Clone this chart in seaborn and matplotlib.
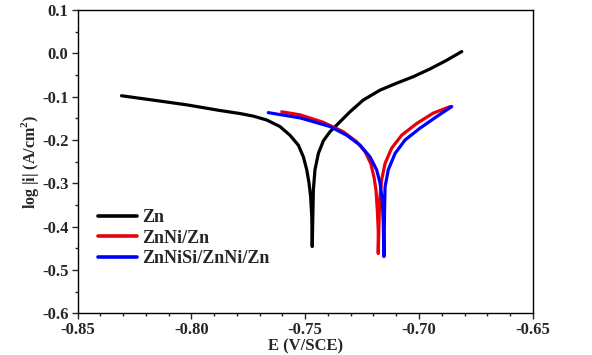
import pandas as pd
import matplotlib
matplotlib.use("Agg")
import matplotlib.pyplot as plt
import seaborn as sns
from matplotlib.ticker import MultipleLocator

# Tafel curves (E in V/SCE, log|i|)
# each list runs along the cathodic branch down to Ecorr, then up the anodic branch
zn_e = [-0.8307, -0.8169, -0.8020, -0.7875, -0.7787, -0.7728, -0.7669, -0.7611,
        -0.7567, -0.7530, -0.7508, -0.7493, -0.7483, -0.7476, -0.7471, -0.7469,
        -0.7464, -0.7457, -0.7442, -0.7420, -0.7391, -0.7362, -0.7303, -0.7245,
        -0.7171, -0.7098, -0.7025, -0.6951, -0.6878, -0.6812]
zn_logi = [-0.098, -0.108, -0.119, -0.132, -0.139, -0.145, -0.154, -0.169,
           -0.189, -0.212, -0.239, -0.269, -0.300, -0.331, -0.377, -0.446,
           -0.315, -0.269, -0.231, -0.202, -0.181, -0.166, -0.135, -0.108,
           -0.085, -0.069, -0.054, -0.036, -0.016, 0.004]

znni_e = [-0.7603, -0.7523, -0.7422, -0.7333, -0.7274, -0.7237, -0.7212, -0.7198,
          -0.7189, -0.7183, -0.7179, -0.7179,
          -0.7173, -0.7164, -0.7149, -0.7120, -0.7076, -0.7010, -0.6937, -0.6863]
znni_logi = [-0.135, -0.142, -0.159, -0.181, -0.204, -0.227, -0.254, -0.285,
             -0.315, -0.362, -0.408, -0.462,
             -0.339, -0.292, -0.254, -0.219, -0.189, -0.162, -0.138, -0.123]

znnisi_e = [-0.7662, -0.7523, -0.7391, -0.7318, -0.7259, -0.7215, -0.7186, -0.7171,
            -0.7161, -0.7157, -0.7154,
            -0.7151, -0.7149, -0.7135, -0.7105, -0.7061, -0.6996, -0.6922, -0.6856]
znnisi_logi = [-0.137, -0.149, -0.169, -0.189, -0.212, -0.239, -0.269, -0.300,
               -0.339, -0.392, -0.469,
               -0.350, -0.308, -0.269, -0.231, -0.200, -0.173, -0.146, -0.123]

labels = ["Zn", "ZnNi/Zn", "ZnNiSi/ZnNi/Zn"]
colors = ["#000000", "#e8000b", "#0000ff"]

frames = []
for name, e, li in zip(labels, [zn_e, znni_e, znnisi_e], [zn_logi, znni_logi, znnisi_logi]):
    frames.append(pd.DataFrame({"E": e, "logi": li, "sample": name}))
df = pd.concat(frames, ignore_index=True)

sns.set_theme(style="ticks")
plt.rcParams["font.family"] = ["Liberation Serif", "DejaVu Serif"]
plt.rcParams["font.weight"] = "bold"
plt.rcParams["mathtext.fontset"] = "custom"
plt.rcParams["mathtext.rm"] = "Liberation Serif:bold"
plt.rcParams["mathtext.bf"] = "Liberation Serif:bold"

fig = plt.figure(figsize=(5.92, 3.55), dpi=100)
ax = fig.add_axes([0.131, 0.1175, 0.769, 0.8545])

sns.lineplot(data=df, x="E", y="logi", hue="sample", palette=colors,
             sort=False, estimator=None, linewidth=2.3, ax=ax,
             solid_joinstyle="round", solid_capstyle="round")

ax.set_xlim(-0.85, -0.65)
ax.set_ylim(-0.6, 0.1)
ax.xaxis.set_major_locator(MultipleLocator(0.05))
ax.xaxis.set_minor_locator(MultipleLocator(0.01))
ax.yaxis.set_major_locator(MultipleLocator(0.1))
ax.yaxis.set_minor_locator(MultipleLocator(0.05))
ax.xaxis.set_major_formatter(plt.FuncFormatter(lambda v, p: f"{v:.2f}"))
ax.yaxis.set_major_formatter(plt.FuncFormatter(lambda v, p: f"{v:.1f}"))

for s in ax.spines.values():
    s.set_linewidth(1.0)
    s.set_color("black")
ax.tick_params(which="major", direction="out", length=4.5, width=1.0, labelsize=12, pad=2)
ax.tick_params(which="minor", direction="out", length=2.5, width=1.0)
for t in ax.get_xticklabels() + ax.get_yticklabels():
    t.set_fontweight("bold")

ax.set_xlabel("E (V/SCE)", fontsize=12, fontweight="bold", labelpad=0)
ax.set_ylabel("log |i| (A/cm$^{2}$)", fontsize=11.5, fontweight="bold", labelpad=1)

leg = ax.legend(loc="upper left", bbox_to_anchor=(0.01, 0.397), frameon=False,
                handlelength=2.15, handletextpad=0.25, labelspacing=0.19,
                prop={"family": "Liberation Serif", "weight": "bold", "size": 13})
for line in leg.get_lines():
    line.set_linewidth(2.6)

fig.savefig("out.png", dpi=100)
